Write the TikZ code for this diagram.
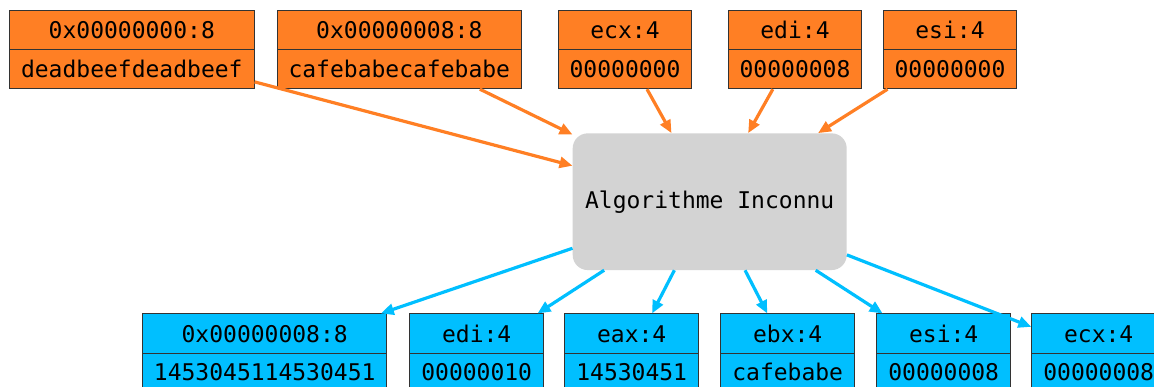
\documentclass[tikz,border=0pt]{standalone}
\usepackage{fontspec}
\newfontfamily\regfont{DejaVu Sans Mono}
\usetikzlibrary{arrows.meta,positioning,shapes.multipart}
\definecolor{regorange}{HTML}{FF7F24}
\definecolor{regblue}{HTML}{00BFFF}
\definecolor{algogray}{HTML}{D3D3D3}
\newcommand\regstrut{\rule[-10.5pt]{0pt}{38pt}}
\newcommand\regcell[2]{\regstrut#1\nodepart{two}\regstrut#2}
\tikzset{
  regbox/.style={rectangle split, rectangle split parts=2, draw=black!80, line width=1pt,
    inner xsep=11.5pt, inner ysep=0pt},
  inreg/.style={regbox, fill=regorange},
  outreg/.style={regbox, fill=regblue},
  algo/.style={fill=algogray, rounded corners=15pt, minimum width=274pt, minimum height=136.7pt},
  inarr/.style={->, draw=regorange, line width=3.2pt},
  outarr/.style={->, draw=regblue, line width=3.2pt}
}

\begin{document}
\begin{tikzpicture}[x=1pt,y=-1pt,>={Triangle[length=13pt,width=11pt]},node distance=155pt,
  font={\regfont\fontsize{23}{27}\selectfont}]
  \useasboundingbox (0,0) rectangle (1154,387);
  \clip (0,0) rectangle (1154,387);
  % inputs
  \node (M0) [inreg] at (131.8,49.7) {\regcell{0x00000000:8}{deadbeefdeadbeef}};
  \node (M8) [inreg, right of=M0, node distance=267.5pt] {\regcell{0x00000008:8}{cafebabecafebabe}};
  \node (ECX) [inreg, right of=M8, node distance=225.7pt] {\regcell{ecx:4}{00000000}};
  \node (EDI) [inreg, right of=ECX, node distance=170pt] {\regcell{edi:4}{00000008}};
  \node (ESI) [inreg, right of=EDI] {\regcell{esi:4}{00000000}};
  % algorithm
  \node (ALG) [algo] at (709.7,201.7) {Algorithme Inconnu};
  % outputs
  \node (OM8) [outreg] at (264.7,353) {\regcell{0x00000008:8}{1453045114530451}};
  \node (OEDI) [outreg, right of=OM8, node distance=212pt] {\regcell{edi:4}{00000010}};
  \node (OEAX) [outreg, right of=OEDI] {\regcell{eax:4}{14530451}};
  \node (OEBX) [outreg, right of=OEAX, node distance=156pt] {\regcell{ebx:4}{cafebabe}};
  \node (OESI) [outreg, right of=OEBX, node distance=156pt] {\regcell{esi:4}{00000008}};
  \node (OECX) [outreg, right of=OESI] {\regcell{ecx:4}{00000008}};
  \path (M0)  edge [inarr]  (ALG)
        (M8)  edge [inarr]  (ALG)
        (ECX) edge [inarr]  (ALG)
        (EDI) edge [inarr]  (ALG)
        (ESI) edge [inarr]  (ALG)
        (ALG) edge [outarr] (OM8)
              edge [outarr] (OEDI)
              edge [outarr] (OEAX)
              edge [outarr] (OEBX)
              edge [outarr] (OESI)
              edge [outarr] (OECX);
\end{tikzpicture}
\end{document}
